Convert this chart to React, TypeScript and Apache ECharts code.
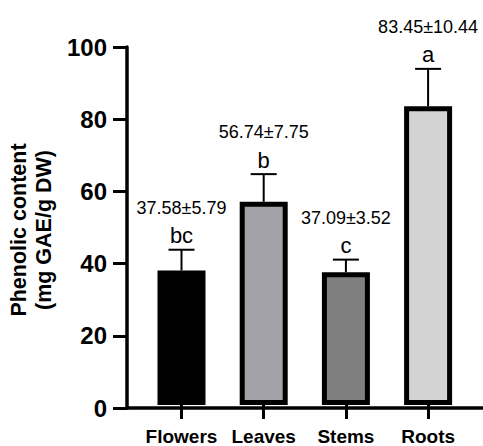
import React, { useEffect, useRef } from "react";
import * as echarts from "echarts";

const categories = ["Flowers", "Leaves", "Stems", "Roots"];
const means = [37.58, 56.74, 37.09, 83.45];
const sds = [5.79, 7.75, 3.52, 10.44];
const letters = ["bc", "b", "c", "a"];
const valueLabels = ["37.58±5.79", "56.74±7.75", "37.09±3.52", "83.45±10.44"];
const barColors = ["#000000", "#a2a2a8", "#7f7f7f", "#d3d3d3"];
const yMin = 0;
const yMax = 100;
const yInterval = 20;

const FONT = "'Liberation Sans', Arial, Helvetica, sans-serif";

export default function App() {
  const ref = useRef<HTMLDivElement>(null);

  useEffect(() => {
    if (!ref.current) return;
    const chart = echarts.init(ref.current, undefined, { renderer: "svg" });

    const errData = means.map((m, i) => [i, m, sds[i]]);

    const option: any = {
      animation: false,
      backgroundColor: "#ffffff",
      grid: [
        { left: 140.4, right: 13.8, top: 47, bottom: 38 },
        { left: 127, right: 0, top: 47, bottom: 38 },
      ],
      xAxis: [
        {
          type: "category",
          gridIndex: 0,
          data: categories,
          axisLine: { show: false },
          axisTick: {
            show: true,
            alignWithLabel: true,
            length: 14,
            lineStyle: { color: "#000", width: 3 },
          },
          axisLabel: {
            color: "#000",
            fontFamily: FONT,
            fontWeight: "bold",
            fontSize: 19,
            margin: 22,
            interval: 0,
          },
          splitLine: { show: false },
        },
        {
          type: "value",
          gridIndex: 1,
          min: 0,
          max: 1,
          axisLine: { show: true, onZero: false, lineStyle: { color: "#000", width: 3.5 } },
          axisTick: { show: false },
          axisLabel: { show: false },
          splitLine: { show: false },
        },
      ],
      yAxis: [
        {
          type: "value",
          gridIndex: 0,
          min: yMin,
          max: yMax,
          interval: yInterval,
          show: false,
          splitLine: { show: false },
        },
        {
          type: "value",
          gridIndex: 1,
          min: yMin,
          max: yMax,
          interval: yInterval,
          axisLine: { show: true, lineStyle: { color: "#000", width: 3.5 } },
          axisTick: { show: true, length: 14, lineStyle: { color: "#000", width: 3 } },
          axisLabel: {
            color: "#000",
            fontFamily: FONT,
            fontWeight: "bold",
            fontSize: 24,
            margin: 20,
          },
          splitLine: { show: false },
        },
      ],
      graphic: [
        {
          type: "text",
          x: 31.5,
          y: 230,
          rotation: Math.PI / 2,
          style: {
            text: "Phenolic content\n(mg GAE/g DW)",
            fontFamily: FONT,
            fontWeight: "bold",
            fontSize: 21.5,
            lineHeight: 24.5,
            fill: "#000",
            align: "center",
            verticalAlign: "middle",
          },
        },
      ],
      series: [
        {
          type: "bar",
          xAxisIndex: 0,
          yAxisIndex: 0,
          barWidth: 48,
          data: means.map((m, i) => ({
            value: m,
            itemStyle: {
              color: barColors[i],
              borderColor: "#000",
              borderWidth: 5,
            },
          })),
          z: 3,
        },
        {
          type: "custom",
          xAxisIndex: 0,
          yAxisIndex: 0,
          z: 4,
          data: errData,
          renderItem: (params: any, api: any) => {
            const i = api.value(0);
            const m = api.value(1);
            const s = api.value(2);
            const base = api.coord([i, m]);
            const top = api.coord([i, m + s]);
            const half = 13;
            return {
              type: "group",
              children: [
                {
                  type: "line",
                  shape: { x1: base[0], y1: base[1], x2: top[0], y2: top[1] },
                  style: { stroke: "#000", lineWidth: 2 },
                },
                {
                  type: "line",
                  shape: { x1: top[0] - half, y1: top[1], x2: top[0] + half, y2: top[1] },
                  style: { stroke: "#000", lineWidth: 2 },
                },
                {
                  type: "text",
                  x: top[0],
                  y: top[1] - 14,
                  style: {
                    text: letters[i],
                    fontFamily: FONT,
                    fontSize: 22,
                    fill: "#000",
                    align: "center",
                    verticalAlign: "middle",
                  },
                },
                {
                  type: "text",
                  x: top[0],
                  y: top[1] - 42,
                  style: {
                    text: valueLabels[i],
                    fontFamily: FONT,
                    fontSize: 18,
                    fill: "#000",
                    align: "center",
                    verticalAlign: "middle",
                  },
                },
              ],
            };
          },
        },
      ],
    };

    chart.setOption(option);
    return () => chart.dispose();
  }, []);

  return (
    <div
      ref={ref}
      style={{ position: "absolute", left: 0, top: 0, width: 483, height: 446 }}
    />
  );
}
